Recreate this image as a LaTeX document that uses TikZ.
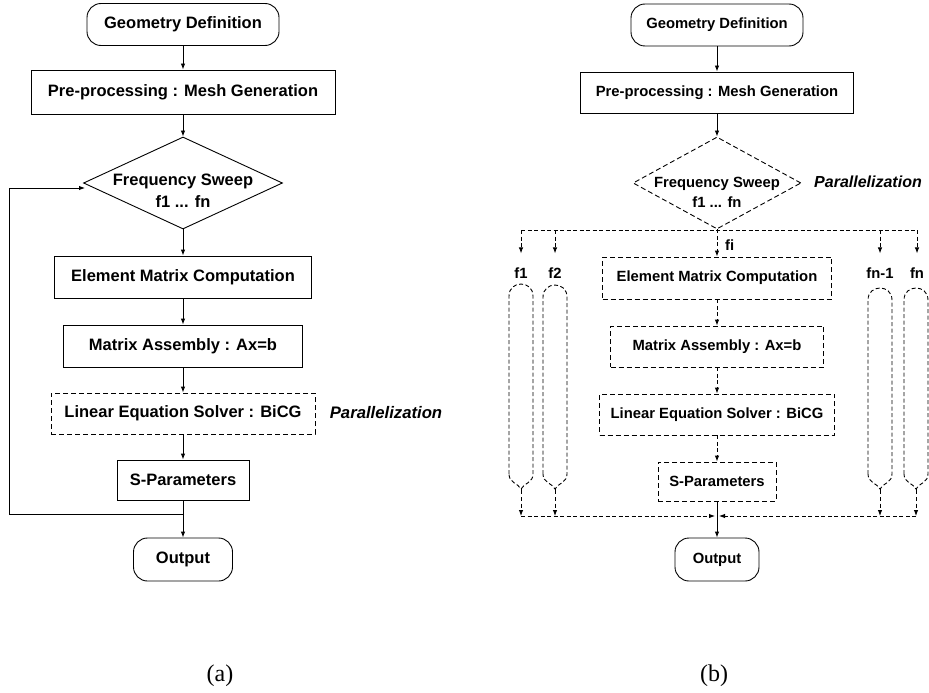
\documentclass[tikz,border=0pt]{standalone}
\usepackage{fontspec}
\newfontfamily\hv{Liberation Sans}
\newfontfamily\tms{Liberation Serif}
\usetikzlibrary{shapes.geometric,arrows.meta,calc}
\begin{document}
\begin{tikzpicture}[x=1pt,y=-1pt,
  lw/.style={line width=0.9pt},
  arr/.style={lw,-{Latex[length=6pt,width=4.5pt]}},
  dsh/.style={lw,dash pattern=on 4pt off 2.5pt},
  darr/.style={arr,dash pattern=on 4pt off 2.5pt},
  box/.style={draw,lw,inner sep=0pt,align=center},
  dbox/.style={box,dash pattern=on 5pt off 3pt},
  term/.style={box,rounded corners=14pt},
  fa/.style={font=\hv\bfseries\fontsize{16.5}{22}\selectfont,align=center},
  fb/.style={font=\hv\bfseries\fontsize{14.8}{20}\selectfont,align=center},
  parstyA/.style={font=\hv\bfseries\itshape\fontsize{16.7}{20}\selectfont},
  parstyB/.style={font=\hv\bfseries\itshape\fontsize{16}{20}\selectfont},
  lab/.style={font=\hv\bfseries\fontsize{14.8}{18}\selectfont,inner sep=0pt},
  captxt/.style={font=\tms\fontsize{24}{26}\selectfont}
]
\useasboundingbox (0,0) rectangle (929,693);

% ---------------- (a) ----------------
\node[term,fa,minimum width=192pt,minimum height=42pt] (ga) at (183,24.5) {Geometry Definition};
\node[box,fa,minimum width=304pt,minimum height=44pt] (pra) at (183,92) {Pre-processing : Mesh Generation};
\node[draw,lw,diamond,minimum width=199pt,minimum height=92pt,inner sep=0pt] (da) at (183,183) {};
\node[fa] (dat) at (183,191) {Frequency Sweep\\f1 ... fn};
\node[box,fa,minimum width=257pt,minimum height=42pt] (ea) at (183,277) {Element Matrix Computation};
\node[box,fa,minimum width=239pt,minimum height=42pt] (ma) at (183,346) {Matrix Assembly : Ax=b};
\node[dbox,fa,minimum width=264pt,minimum height=41pt] (la) at (183,413.5) {Linear Equation Solver : BiCG};
\node[parstyA] (para) at (386,413) {Parallelization};
\node[box,fa,minimum width=132pt,minimum height=40pt] (sa) at (183,480) {S-Parameters};
\node[term,fa,minimum width=99pt,minimum height=43pt] (oa) at (183,559.5) {Output};
\node[captxt] (capa) at (220,676) {(a)};

\coordinate (ja) at (183,514);
\coordinate (la1) at (9,514);
\coordinate (la2) at (9,188);
\coordinate (la3) at (85,188);

\draw[arr] (ga) -- (pra);
\draw[arr] (pra) -- (da);
\draw[arr] (da) -- (ea);
\draw[arr] (ea) -- (ma);
\draw[arr] (ma) -- (la);
\draw[arr] (la) -- (sa);
\draw[arr] (sa) -- (oa);
\draw[lw] (ja) -- (la1) -- (la2);
\draw[arr] (la2) -- (la3);

% ---------------- (b) ----------------
\node[term,fb,minimum width=172pt,minimum height=42pt] (gb) at (717,25) {Geometry Definition};
\node[box,fb,minimum width=273pt,minimum height=41pt] (prb) at (717,92.5) {Pre-processing : Mesh Generation};
\node[draw,lw,diamond,dash pattern=on 5pt off 3pt,minimum width=168pt,minimum height=92pt,inner sep=0pt] (db) at (717,183) {};
\node[fb] (dbt) at (717,192) {Frequency Sweep\\f1 ... fn};
\node[parstyB] (parb) at (868,182) {Parallelization};
\node[dbox,fb,minimum width=229pt,minimum height=42pt] (eb) at (717,278) {Element Matrix Computation};
\node[dbox,fb,minimum width=213pt,minimum height=41pt] (mb) at (717,346.5) {Matrix Assembly : Ax=b};
\node[dbox,fb,minimum width=235pt,minimum height=41pt] (lb) at (717,414.5) {Linear Equation Solver : BiCG};
\node[dbox,fb,minimum width=118pt,minimum height=39pt] (sb) at (717,481.5) {S-Parameters};
\node[term,fb,minimum width=84pt,minimum height=43pt] (ob) at (717,559.5) {Output};
\node[captxt] (capb) at (714,676) {(b)};

% branch labels
\node[lab] (l1) at (521,273) {f1};
\node[lab] (l2) at (555,273) {f2};
\node[lab] (l3) at (880,273) {fn-1};
\node[lab] (l4) at (917,273) {fn};
\node[lab,anchor=west] (li) at (725,245) {fi};

% distribution line
\coordinate (d1) at (521,230);
\coordinate (d2) at (555,230);
\coordinate (d3) at (880,230);
\coordinate (d4) at (917,230);
\draw[dsh] (d1) -- (d4);
\draw[darr,shorten >=14pt] (d1) -- (l1);
\draw[darr,shorten >=14pt] (d2) -- (l2);
\draw[darr,shorten >=14pt] (d3) -- (l3);
\draw[darr,shorten >=14pt] (d4) -- (l4);

% flow (b)
\draw[arr] (gb) -- (prb);
\draw[arr] (prb) -- (db);
\draw[darr] (db.south) -- (eb);
\draw[darr] (eb) -- (mb);
\draw[darr] (mb) -- (lb);
\draw[darr] (lb) -- (sb);
\draw[arr] (sb) -- (ob);

% pills
\foreach \cx/\t/\n in {521/284/p1, 555/285/p2, 880/288/p3, 916/288/p4}{
  \draw[dsh] (\cx-12,474) -- (\cx-12,\t+12)
     .. controls (\cx-12,\t-4) and (\cx+12,\t-4) .. (\cx+12,\t+12)
     -- (\cx+12,474)
     .. controls (\cx+12,483) and (\cx+3,483) .. (\cx,489)
     .. controls (\cx-3,483) and (\cx-12,483) .. (\cx-12,474);
  \draw[lw] (\cx,489) -- (\cx,494);
  \coordinate (\n b) at (\cx,497);
  \coordinate (\n m) at (\cx,516);
  \draw[darr] (\n b) -- (\n m);
}

% merge line
\coordinate (jb) at (717,516);
\draw[darr,shorten >=2pt] (p1m) -- (jb);
\draw[darr,shorten >=2pt] (p4m) -- (jb);
\end{tikzpicture}
\end{document}
